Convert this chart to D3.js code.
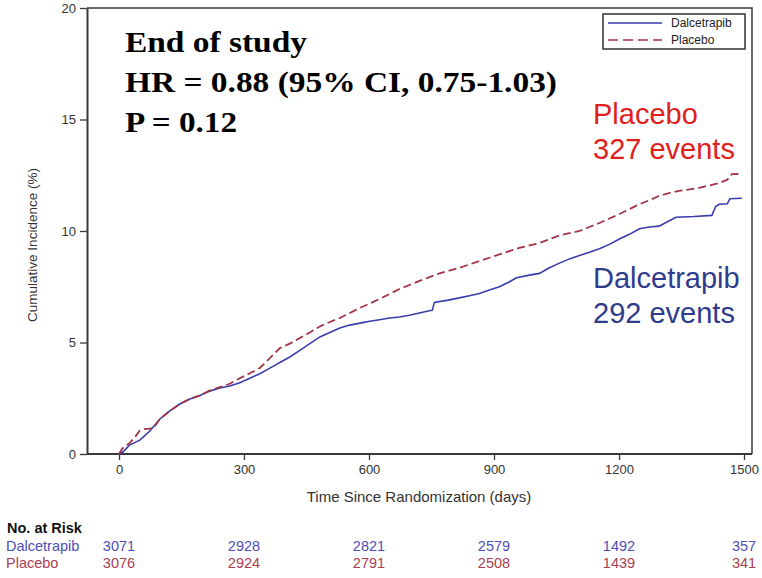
<!DOCTYPE html>
<html>
<head>
<meta charset="utf-8">
<script src="https://cdn.jsdelivr.net/npm/d3@7"></script>
<style>
  body { margin: 0; background: #fff; }
  svg text { font-family: "Liberation Sans", Arial, sans-serif; }
</style>
</head>
<body>
<svg id="km"></svg>
<script>
// cumulative incidence (days, %)
var dalDays = [0, 10, 25, 50, 74, 98, 122, 146, 170, 194, 218, 242, 266, 290, 314, 338, 362, 386, 410, 434, 458, 482, 506, 530, 554, 578, 602, 625, 650, 673, 697, 721, 745, 752, 757, 790, 817, 841, 865, 889, 913, 935, 954, 985, 1009, 1033, 1057, 1081, 1105, 1129, 1153, 1177, 1201, 1225, 1249, 1273, 1296, 1315, 1337, 1380, 1423, 1432, 1440, 1460, 1466, 1495];
var dalInc = [0, 0.1, 0.4, 0.62, 1.03, 1.57, 1.93, 2.24, 2.47, 2.62, 2.82, 2.96, 3.05, 3.2, 3.4, 3.6, 3.85, 4.1, 4.35, 4.65, 4.95, 5.25, 5.45, 5.65, 5.78, 5.87, 5.95, 6.02, 6.1, 6.14, 6.22, 6.32, 6.42, 6.45, 6.8, 6.9, 7.0, 7.1, 7.2, 7.35, 7.5, 7.7, 7.9, 8.02, 8.1, 8.35, 8.56, 8.75, 8.9, 9.05, 9.2, 9.4, 9.64, 9.85, 10.1, 10.18, 10.22, 10.4, 10.62, 10.65, 10.7, 11.1, 11.2, 11.22, 11.45, 11.47];

var plaDays = [0, 8, 26, 40, 50, 60, 82, 98, 122, 146, 170, 194, 218, 242, 266, 290, 314, 338, 362, 386, 410, 434, 458, 482, 506, 530, 554, 578, 602, 625, 650, 673, 697, 721, 745, 769, 793, 817, 841, 865, 889, 913, 937, 961, 985, 1009, 1033, 1057, 1081, 1105, 1129, 1153, 1177, 1201, 1225, 1249, 1273, 1296, 1320, 1344, 1392, 1440, 1460, 1471, 1495];
var plaInc = [0, 0.25, 0.5, 0.8, 1.05, 1.12, 1.15, 1.57, 1.93, 2.24, 2.47, 2.62, 2.85, 3.0, 3.15, 3.4, 3.62, 3.86, 4.3, 4.75, 4.95, 5.2, 5.45, 5.72, 5.92, 6.1, 6.32, 6.55, 6.75, 6.95, 7.18, 7.4, 7.58, 7.76, 7.93, 8.1, 8.22, 8.35, 8.5, 8.65, 8.8, 8.95, 9.1, 9.24, 9.35, 9.46, 9.63, 9.8, 9.9, 10.0, 10.18, 10.36, 10.56, 10.76, 10.98, 11.2, 11.38, 11.57, 11.7, 11.8, 11.93, 12.15, 12.3, 12.55, 12.56];

var xTicks = [0, 300, 600, 900, 1200, 1500];
var yTicks = [0, 5, 10, 15, 20];

// number at risk table
var riskDays = [0, 300, 600, 900, 1200, 1500];
var riskDal = [3071, 2928, 2821, 2579, 1492, 357];
var riskPla = [3076, 2924, 2791, 2508, 1439, 341];

var statLines = ["End of study", "HR = 0.88 (95% CI, 0.75-1.03)", "P = 0.12"];
var statWidths = [182, 432, 112];

var blue = "#3b3bab", red = "#a33446";

var margin = {top: 8, right: 10, bottom: 124, left: 87};
var width = 762 - margin.left - margin.right;
var height = 578 - margin.top - margin.bottom;

var root = d3.select("svg#km")
    .attr("width", 762)
    .attr("height", 578);

var svg = root.append("g")
    .attr("transform", "translate(" + margin.left + "," + margin.top + ")");

var xScale = d3.scaleLinear().domain([0, 1500]).range([32, 657]);
var yScale = d3.scaleLinear().domain([0, 20]).range([height, 0]);

// frame (top / right)
svg.append("path")
    .attr("d", "M0,0H" + width + "V" + height)
    .style("fill", "none")
    .style("stroke", "#3a3a3a")
    .style("stroke-width", 1.5);

var xAxis = svg.append("g")
    .attr("transform", "translate(0," + height + ")")
    .call(d3.axisBottom(xScale).tickValues(xTicks).tickFormat(d3.format("d"))
        .tickSize(6).tickPadding(5).tickSizeOuter(0));
xAxis.select(".domain").attr("d", "M0,0H" + width);

var yAxis = svg.append("g")
    .call(d3.axisLeft(yScale).tickValues(yTicks).tickSize(7).tickPadding(4).tickSizeOuter(0));

[xAxis, yAxis].forEach(function(ax) {
    ax.select(".domain").style("stroke", "#3a3a3a").style("stroke-width", 2);
    ax.selectAll(".tick line").style("stroke", "#3a3a3a").style("stroke-width", 1.3);
    ax.selectAll(".tick text")
        .style("font-family", "'Liberation Sans', Arial, sans-serif")
        .style("font-size", "13px")
        .style("fill", "#333");
});

// curves
var line = d3.line()
    .x(function(d) { return xScale(d[0]); })
    .y(function(d) { return yScale(d[1]); });

var dalData = d3.zip(dalDays, dalInc);
var plaData = d3.zip(plaDays, plaInc);

svg.append("path")
    .datum(dalData)
    .attr("d", line)
    .style("fill", "none")
    .style("stroke", blue)
    .style("stroke-width", 1.6);

svg.append("path")
    .datum(plaData)
    .attr("d", line)
    .style("fill", "none")
    .style("stroke", red)
    .style("stroke-width", 1.8)
    .style("stroke-dasharray", "8,4");

// axis titles
svg.append("text")
    .attr("x", 332)
    .attr("y", height + 48)
    .attr("text-anchor", "middle")
    .style("font-size", "15px")
    .style("fill", "#333")
    .text("Time Since Randomization (days)");

svg.append("text")
    .attr("transform", "translate(-50," + (237) + ") rotate(-90)")
    .attr("text-anchor", "middle")
    .style("font-size", "13.5px")
    .style("fill", "#333")
    .text("Cumulative Incidence (%)");

// legend
var leg = svg.append("g").attr("transform", "translate(516,6)");
leg.append("rect")
    .attr("width", 142).attr("height", 35)
    .style("fill", "#fff")
    .style("stroke", "#333")
    .style("stroke-width", 1.5);
[["Dalcetrapib", blue, null], ["Placebo", red, "10,5"]].forEach(function(d, i) {
    var y = 9 + i * 17;
    leg.append("line")
        .attr("x1", 5).attr("x2", 59).attr("y1", y).attr("y2", y)
        .style("stroke", d[1])
        .style("stroke-width", 1.5)
        .style("stroke-dasharray", d[2]);
    leg.append("text")
        .attr("x", 68).attr("y", y + 4)
        .style("font-size", "12px")
        .style("fill", "#222")
        .text(d[0]);
});

// stats box
svg.selectAll("text.stat")
    .data(statLines)
    .enter()
    .append("text")
    .attr("class", "stat")
    .attr("x", 38)
    .attr("y", function(d, i) { return 44 + i * 40; })
    .attr("textLength", function(d, i) { return statWidths[i]; })
    .attr("lengthAdjust", "spacingAndGlyphs")
    .style("font-family", "'Liberation Serif', 'Times New Roman', serif")
    .style("font-weight", "bold")
    .style("font-size", "30px")
    .style("fill", "#000")
    .text(function(d) { return d; });

// group labels
[["Placebo", "327 events", "#e0201c", 116], ["Dalcetrapib", "292 events", "#2f3c8e", 280]].forEach(function(d) {
    svg.append("text").attr("x", 506).attr("y", d[3])
        .style("font-size", "29px").style("fill", d[2]).text(d[0]);
    svg.append("text").attr("x", 506).attr("y", d[3] + 35)
        .style("font-size", "29px").style("fill", d[2]).text(d[1]);
});

// number at risk
var risk = root.append("g");
risk.append("text")
    .attr("x", 7).attr("y", 533)
    .style("font-size", "14.5px")
    .style("font-weight", "bold")
    .style("fill", "#111")
    .text("No. at Risk");

[["Dalcetrapib", riskDal, "#4e4eb8", 551], ["Placebo", riskPla, "#a8404f", 568]].forEach(function(row) {
    risk.append("text")
        .attr("x", 6).attr("y", row[3])
        .style("font-size", "14.5px")
        .style("fill", row[2])
        .text(row[0]);
    risk.selectAll(null)
        .data(row[1])
        .enter()
        .append("text")
        .attr("x", function(d, i) { return margin.left + xScale(riskDays[i]); })
        .attr("y", row[3])
        .attr("text-anchor", "middle")
        .style("font-size", "14.5px")
        .style("fill", row[2])
        .text(function(d) { return d; });
});
</script>
</body>
</html>
